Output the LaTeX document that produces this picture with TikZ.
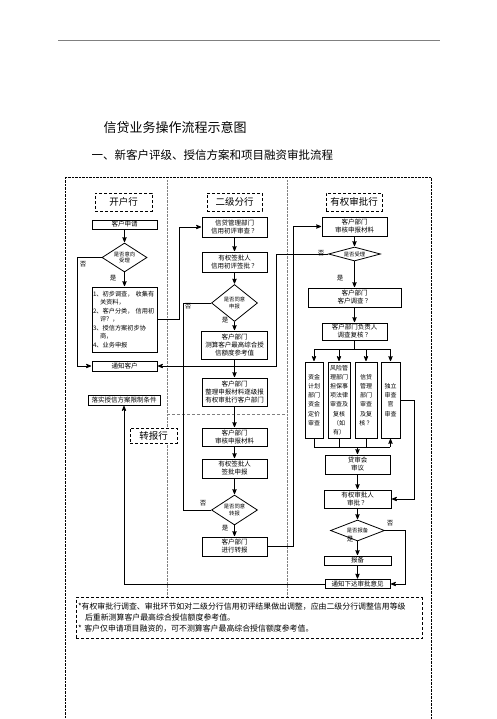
\documentclass[tikz,border=0pt]{standalone}
\usepackage{fontspec}
\setmainfont{Noto Sans CJK SC}
\usepackage{tikz}
\usetikzlibrary{arrows,shapes.geometric}

\begin{document}
\begin{tikzpicture}[->,>=stealth',shorten >=0.5pt,x=1pt,y=-1pt,thick,
                    font=\fontsize{6.5}{8}\selectfont]

  \tikzstyle{box}=[rectangle,draw,align=center,inner sep=0pt]
  \tikzstyle{dec}=[diamond,draw,align=center,inner sep=0pt,
                   font=\fontsize{5.3}{6.5}\selectfont]
  \tikzstyle{head}=[rectangle,draw,densely dashed,thin,inner sep=0pt,
                    font=\fontsize{9.5}{11}\selectfont]
  \tikzstyle{tall}=[box,minimum height=76,font=\fontsize{6}{9.2}\selectfont]
  \tikzstyle{lab}=[inner sep=0pt,font=\fontsize{6.5}{8}\selectfont]
  \tikzstyle{frame}=[-,densely dotted,thin]

  \useasboundingbox (0,0) rectangle (496,719);

  \draw[-,gray,thin] (58,40) -- (440,40);
  \node[anchor=west,font=\fontsize{13}{15}\selectfont] (title) at (100,128) {信贷业务操作流程示意图};
  \node[anchor=west,font=\fontsize{11.5}{13}\selectfont] (sub) at (88,155) {一、新客户评级、授信方案和项目融资审批流程};

  \draw[frame] (65,719) -- (65,177) -- (431,177) -- (431,719);
  \draw[frame,gray] (167,180) -- (167,597);
  \draw[frame,gray] (287,180) -- (287,597);
  \draw[-,densely dashed,thin,gray] (167,414) -- (287,414);

  \node[head,minimum width=57,minimum height=18] (KHH) at (123.5,202) {开户行};
  \node[head,minimum width=55,minimum height=18] (EJH) at (234.5,202) {二级分行};
  \node[head,minimum width=56,minimum height=18] (YQH) at (354,202) {有权审批行};
  \node[head,fill=white,minimum width=47,minimum height=15] (ZBH) at (153.5,435.5) {转报行};

  % 开户行
  \node[box,minimum width=65,minimum height=9] (SQ) at (124.5,224.5) {客户申请};
  \node[dec,shape aspect=1.55,minimum width=45,minimum height=29] (SL) at (124.5,257.5) {是否意向\\受理};
  \node[box,minimum width=65,minimum height=65,text width=63,align=left,
        font=\fontsize{6.2}{8.5}\selectfont] (DC) at (124.5,319.5)
        {1、初步调查，\ 收集有\\\hspace*{7pt}关资料，\\2、客户分类，\ 信用初\\\hspace*{7pt}评？，\\3、授信方案初步协\\\hspace*{7pt}商，\\4、业务申报};
  \node[box,minimum width=65,minimum height=10] (TZ) at (124.5,366) {通知客户};
  \node[box,minimum width=72,minimum height=10] (LS) at (124,400) {落实授信方案限制条件};

  % 二级分行
  \node[box,minimum width=65,minimum height=20] (SC) at (234.5,227) {信贷管理部门\\信用初评审查 ？};
  \node[box,minimum width=65,minimum height=20] (QP) at (234.5,262) {有权签批人\\信用初评签批 ？};
  \node[dec,shape aspect=1.3,minimum width=46,minimum height=37] (TY) at (234.5,303) {是否同意\\申报};
  \node[box,minimum width=66,minimum height=28] (CS) at (234.5,345) {客户部门\\测算客户最高综合授\\信额度参考值};
  \node[box,minimum width=65,minimum height=28] (ZL) at (234.5,392) {客户部门\\整理申报材料逐级报\\有权审批行客户部门};
  \node[box,minimum width=65,minimum height=18] (SH) at (234.5,437) {客户部门\\审核申报材料};
  \node[box,minimum width=65,minimum height=19] (QB) at (234.5,468.5) {有权签批人\\签批申报};
  \node[dec,shape aspect=1.5,minimum width=46,minimum height=30] (ZB) at (234.5,510) {是否同意\\转报};
  \node[box,minimum width=65,minimum height=19] (JX) at (234.5,546.5) {客户部门\\进行转报};

  % 有权审批行
  \node[box,minimum width=65,minimum height=19] (YS) at (354.5,226.5) {客户部门\\审核申报材料};
  \node[dec,shape aspect=3.5,minimum width=52,minimum height=14] (SL2) at (354.5,254) {是否受理};
  \node[box,minimum width=93,minimum height=19] (DCC) at (354.5,297.5) {客户部门\\客户调查 ？};
  \node[box,minimum width=65,minimum height=17] (FH) at (354.5,331.5) {客户部门负责人\\调查复核 ？};
  \node[tall,minimum width=18] (ZJ) at (314,400) {资金\\计划\\部门\\资金\\定价\\审查};
  \node[tall,minimum width=22] (FX) at (339,400) {风险管\\理部门\\担保事\\项法律\\审查及\\复核\\（如\\有）};
  \node[tall,minimum width=22] (XD) at (366,400) {信贷\\管理\\部门\\审查\\及复\\核 ？};
  \node[tall,minimum width=19] (DL) at (390.5,400) {独立\\审查\\官\\审查};
  \node[box,minimum width=65,minimum height=19] (DSH) at (357.5,464.5) {贷审会\\审议};
  \node[box,minimum width=67,minimum height=18] (SP) at (357.5,499) {有权审批人\\审批 ？};
  \node[dec,shape aspect=2.5,minimum width=54,minimum height=21] (BB) at (357.5,530.5) {是否报备};
  \node[box,minimum width=67,minimum height=9] (BBX) at (357.5,560.5) {报备};
  \node[box,minimum width=65,minimum height=9] (TZX) at (357.5,584) {通知下达审批意见};

  \coordinate (fork) at (354.5,349);
  \coordinate (join) at (357.5,447);

  \node[lab] (no1) at (83,264) {否};
  \node[lab] (yes1) at (113,278) {是};
  \node[lab] (no2) at (188,306) {否};
  \node[lab] (yes2) at (225,320) {是};
  \node[lab] (no3) at (203,503) {否};
  \node[lab] (yes3) at (225,528) {是};
  \node[lab] (no4) at (321,253) {否};
  \node[lab] (yes4) at (340,278) {是};
  \node[lab] (no5) at (390,523) {否};
  \node[lab] (yes5) at (350,539) {是};

  \path
  (SQ) edge (SL)
  (SL) edge (DC)
  (SC) edge (QP)
  (QP) edge (TY)
  (TY) edge (CS)
  (CS) edge (ZL)
  (ZL) edge (SH)
  (SH) edge (QB)
  (QB) edge (ZB)
  (ZB) edge (JX)
  (YS) edge (SL2)
  (SL2) edge (DCC)
  (DCC) edge (FH)
  (join) edge (DSH)
  (DSH) edge (SP)
  (SP) edge (BB)
  (BB) edge (BBX)
  (BBX) edge (TZX)
  ;

  \draw (SL.west) -- ++(-24.5,0) |- (TZ.west);
  \draw (DC.east) -- ++(22,0) |- (SC.west);
  \draw[-] (TY.west) -- ++(-28,0) |- (ZB.west);
  \draw (JX.east) -- ++(26,0) |- (YS.west);
  \draw (SL2.west) -- ++(-52,0) |- (TZ.east);
  \draw (TZX.west) -| (LS.south);

  \draw[-] (FH.south) -- (fork);
  \draw[-] (ZJ.north |- fork) -- (DL.north |- fork);
  \draw (ZJ.north |- fork) -- (ZJ.north);
  \draw (FX.north |- fork) -- (FX.north);
  \draw (XD.north |- fork) -- (XD.north);
  \draw (DL.north |- fork) -- (DL.north);

  \draw[-] (ZJ.south) -- (ZJ.south |- join);
  \draw[-] (FX.south) -- (FX.south |- join);
  \draw[-] (XD.south) -- (XD.south |- join);
  \draw[-] (ZJ.south |- join) -- (DL.south |- join);
  \draw (DL.south |- join) -- (DL.south);
  \draw (DL.east) -- ++(14,0) |- (SP.east);
  \draw (BB.east) -- ++(20,0) |- (TZX.east);

  \node[rectangle,draw,densely dashed,thin,inner sep=2pt,text width=342,
        minimum height=41,align=left,font=\fontsize{7.9}{11}\selectfont] (NB) at (249,618)
        {*有权审批行调查、审批环节如对二级分行信用初评结果做出调整，应由二级分行调整信用等级\\
         \hspace*{7pt}后重新测算客户最高综合授信额度参考值。\\
         ** 客户仅申请项目融资的，可不测算客户最高综合授信额度参考值。};

\end{tikzpicture}
\end{document}
